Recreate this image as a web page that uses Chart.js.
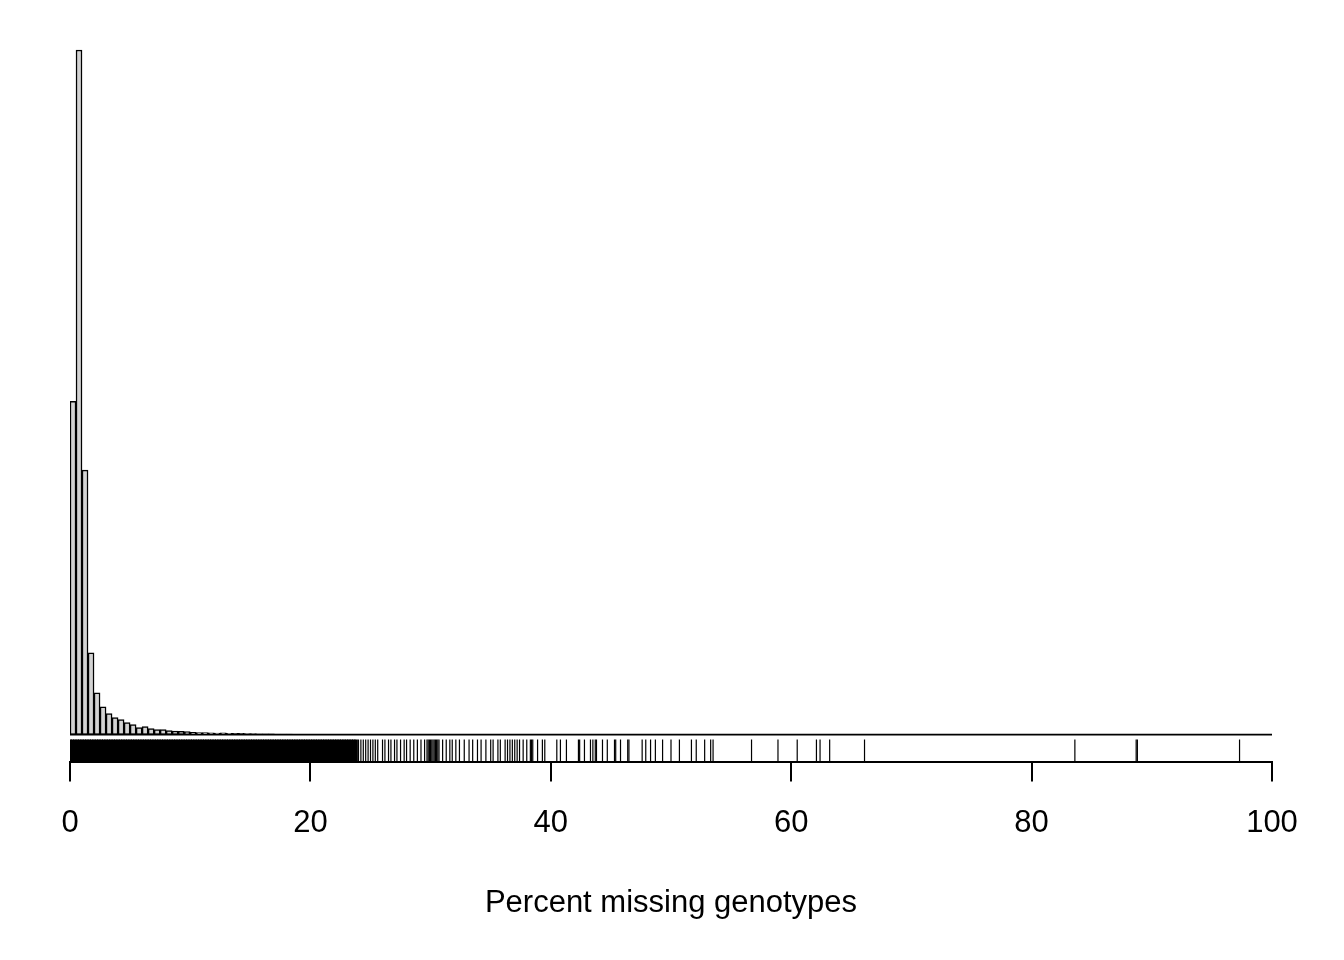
<!DOCTYPE html>
<html>
<head>
<meta charset="utf-8">
<script src="https://cdn.jsdelivr.net/npm/chart.js@4.4.1/dist/chart.umd.min.js"></script>
<style>
  html, body { margin: 0; padding: 0; background: #fff; }
</style>
</head>
<body>
<canvas id="histChart" width="1344" height="960"></canvas>
<script>
// histogram: bins of 0.5 % starting at 0
const binWidth = 0.5;
const counts = [
  1670, 3430, 1325, 410, 210, 140, 105, 85, 75, 60,
  50, 35, 40, 30, 25, 25, 20, 18, 17, 15,
  12, 10, 10, 9, 8, 9, 7, 6, 6, 5,
  5, 4, 4, 4, 3, 3, 3, 2, 2, 2,
  2, 2, 1, 2, 1, 1, 1, 1, 1, 1,
  1, 1, 1, 0, 1, 1, 1, 0, 1, 1
];

// rug: individual values (the dense block 0-24 is solid black)
const rugDense = [
  0.0, 0.2, 0.4, 0.6, 0.8, 1.0, 1.2, 1.4, 1.6, 1.8,
  2.0, 2.2, 2.4, 2.6, 2.8, 3.0, 3.2, 3.4, 3.6, 3.8,
  4.0, 4.2, 4.4, 4.6, 4.8, 5.0, 5.2, 5.4, 5.6, 5.8,
  6.0, 6.2, 6.4, 6.6, 6.8, 7.0, 7.2, 7.4, 7.6, 7.8,
  8.0, 8.2, 8.4, 8.6, 8.8, 9.0, 9.2, 9.4, 9.6, 9.8,
  10.0, 10.2, 10.4, 10.6, 10.8, 11.0, 11.2, 11.4, 11.6, 11.8,
  12.0, 12.2, 12.4, 12.6, 12.8, 13.0, 13.2, 13.4, 13.6, 13.8,
  14.0, 14.2, 14.4, 14.6, 14.8, 15.0, 15.2, 15.4, 15.6, 15.8,
  16.0, 16.2, 16.4, 16.6, 16.8, 17.0, 17.2, 17.4, 17.6, 17.8,
  18.0, 18.2, 18.4, 18.6, 18.8, 19.0, 19.2, 19.4, 19.6, 19.8,
  20.0, 20.2, 20.4, 20.6, 20.8, 21.0, 21.2, 21.4, 21.6, 21.8,
  22.0, 22.2, 22.4, 22.6, 22.8, 23.0, 23.2, 23.4, 23.6, 23.8
];
const rugSparse = [
  24.0, 24.2, 24.4, 24.6, 24.8, 25.0, 25.2, 25.4, 25.6,
  26.0, 26.2, 26.5, 26.7, 27.0, 27.2, 27.5, 27.8, 28.0, 28.3, 28.6, 28.9, 29.2, 29.5,
  29.7, 29.8, 29.9, 30.0, 30.1, 30.2, 30.3, 30.4, 30.5, 30.6, 30.7,
  31.0, 31.3, 31.6, 31.8, 32.1, 32.4, 32.8, 33.2, 33.5, 33.9, 34.2, 34.6,
  35.0, 35.2, 35.6, 35.8, 36.2, 36.4, 36.6, 36.8, 37.0, 37.2, 37.4, 37.7,
  38.0, 38.3, 38.4, 38.5, 38.9, 39.3, 39.5, 40.5, 40.8, 41.3, 42.3, 42.4, 42.8,
  43.3, 43.5, 43.7, 43.8, 44.3, 44.7, 45.3, 45.4, 45.8, 46.4, 46.5, 47.6, 47.9,
  48.3, 48.7, 49.3, 50.0, 50.7, 51.7, 52.1, 52.8, 53.3, 53.5,
  56.7, 58.9, 60.5, 62.1, 62.4, 63.2, 66.1, 83.6, 88.7, 88.8, 97.3
];
const xTicks = [0, 20, 40, 60, 80, 100];

const rugY = -80; // centre of the rug strip under the bars
const font = { family: '"Liberation Sans", Arial, sans-serif', size: 31 };

const ctx = document.getElementById('histChart').getContext('2d');

new Chart(ctx, {
  type: 'bar',
  data: {
    datasets: [
      {
        type: 'bar',
        data: counts.map((c, i) => ({ x: binWidth * i + binWidth / 2, y: c })),
        backgroundColor: '#d3d3d3',
        borderColor: '#000',
        borderWidth: 1.5,
        borderSkipped: false,
        barPercentage: 1,
        categoryPercentage: 1,
        grouped: false,
        order: 2
      },
      {
        type: 'line',
        data: [{ x: 0, y: 0 }, { x: 100, y: 0 }],
        borderColor: '#000',
        borderWidth: 1.8,
        pointRadius: 0,
        order: 1
      },
      {
        type: 'scatter',
        data: rugDense.map(v => ({ x: v, y: rugY })),
        pointStyle: 'line',
        rotation: 90,
        radius: 11,
        borderColor: '#000',
        borderWidth: 3.6,
        order: 0
      },
      {
        type: 'scatter',
        data: rugSparse.map(v => ({ x: v, y: rugY })),
        pointStyle: 'line',
        rotation: 90,
        radius: 11,
        borderColor: '#000',
        borderWidth: 1.2,
        order: 0
      }
    ]
  },
  options: {
    responsive: false,
    animation: false,
    events: [],
    layout: { padding: { left: 70, right: 72, top: 40, bottom: 38 } },
    plugins: {
      legend: { display: false },
      tooltip: { enabled: false }
    },
    scales: {
      x: {
        type: 'linear',
        min: 0,
        max: 100,
        offset: false,
        afterBuildTicks: axis => { axis.ticks = xTicks.map(v => ({ value: v })); },
        ticks: { color: '#000', font: font, padding: 23, maxRotation: 0 },
        grid: { offset: false, drawOnChartArea: false, drawTicks: true, tickLength: 20, color: '#000', lineWidth: 2 },
        border: { display: true, color: '#000', width: 2 },
        title: {
          display: true,
          text: 'Percent missing genotypes',
          color: '#000',
          font: font,
          padding: { top: 20, bottom: 0 }
        }
      },
      y: {
        display: false,
        min: -135,
        max: 3480
      }
    }
  }
});
</script>
</body>
</html>
